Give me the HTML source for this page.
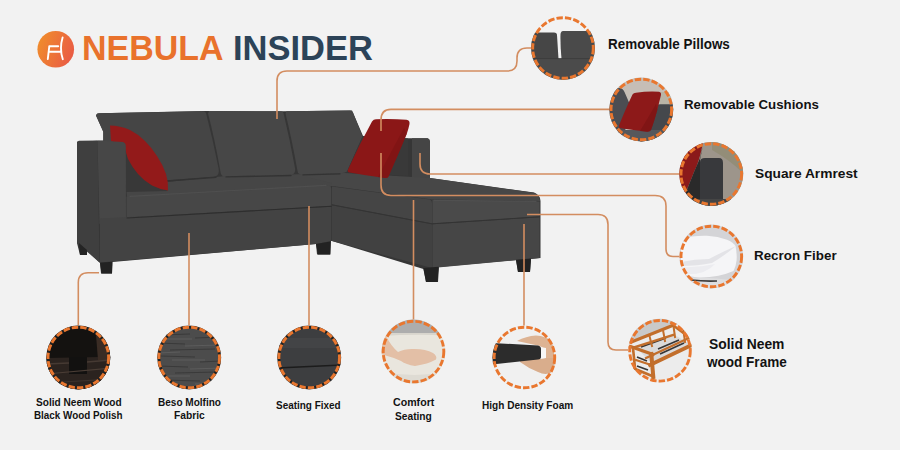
<!DOCTYPE html>
<html><head><meta charset="utf-8">
<style>
html,body{margin:0;padding:0;}
body{width:900px;height:450px;overflow:hidden;background:#f2f2f2;position:relative;font-family:"Liberation Sans",sans-serif;}
svg{position:absolute;left:0;top:0;}
.t{position:absolute;font-weight:bold;color:#121212;white-space:nowrap;line-height:1;}
</style></head><body>
<svg width="900" height="450" viewBox="0 0 900 450">
<defs>
 <linearGradient id="lg" x1="0" y1="0.3" x2="1" y2="0.7">
  <stop offset="0" stop-color="#f08c2c"/><stop offset="1" stop-color="#e95a45"/>
 </linearGradient>
 <clipPath id="c1"><circle cx="563" cy="48" r="32"/></clipPath>
 <clipPath id="c2"><circle cx="641.3" cy="109.5" r="32"/></clipPath>
 <clipPath id="c3"><circle cx="711.3" cy="174" r="32"/></clipPath>
 <clipPath id="c4"><circle cx="711.3" cy="256.5" r="32"/></clipPath>
 <clipPath id="c5"><circle cx="660" cy="350.8" r="32"/></clipPath>
 <clipPath id="c6"><circle cx="524.4" cy="357.5" r="32"/></clipPath>
 <clipPath id="c7"><circle cx="78.3" cy="357.5" r="32"/></clipPath>
 <clipPath id="c8"><circle cx="189.2" cy="357.5" r="32"/></clipPath>
 <clipPath id="c9"><circle cx="309.2" cy="357.5" r="32"/></clipPath>
 <clipPath id="c10"><circle cx="413.5" cy="351.6" r="32"/></clipPath>
</defs>

<!-- logo -->
<circle cx="55.75" cy="49.25" r="18.3" fill="url(#lg)"/>
<path d="M47.8,59 L49.3,46.2 H58.2 M49,51.8 H60.2 M62.6,37.5 Q59.2,48.5 62.8,59.2" stroke="#fff" stroke-width="1.9" fill="none" stroke-linecap="round" stroke-linejoin="round"/>

<!-- ===== SOFA ===== -->
<g id="sofa">
 <!-- base silhouette -->
 <path d="M77,141.7 L103.3,140.6 L103.3,131.7 L96,115.5 Q96.5,113.3 99,113.3 L204,110.9 L283,111.3 L352,110.5 L363,136 L407.8,138.3 L427.8,138.3 Q430,139 430,142 L430,178 L534,192.5 Q540.5,195 540.5,201 L540.5,258 L531,259 L530,272 L518,272 L516,260 L439,267 L438,282 L426,282 L423.4,269 L332,241 L331,241 L330.5,254.5 L317,254.5 L316,244 L112.4,262 L112,273.5 L101,273.5 L100,263 L87,250 L87,255 L80,255 L77,243 Z" fill="#363636"/>
 <!-- back cushion 1 -->
 <path d="M96,115.5 Q96.5,113.3 99,113.3 L203,111.3 Q205.5,111.5 206,113 Q213,140 218.5,168 Q220,175 215,176.5 L160,181 L126,185 L103.3,141 L103.3,131.7 Z" fill="#454545"/>
 <!-- back cushion 2 -->
 <path d="M209,111 L281,111.3 Q283,111.5 283.5,113 Q290,140 295,168 Q296,174 291,175 L226,176.8 Q221,177 220.5,172 Q215,140 208,113.5 Z" fill="#474747"/>
 <!-- back cushion 3 -->
 <path d="M286.5,111.2 L350,110.6 Q352,110.8 353,112.5 L362.5,136.5 L347,171.5 Q345,173 340,173.3 L303,174.8 Q298,175 297.5,171 Q292,140 285.5,113.5 Z" fill="#474747"/>
 <!-- backrest of chaise (dark) -->
 <path d="M362.5,136.5 L408,138.5 L408,176 L347,172 Z" fill="#393939"/>
 <!-- chaise armrest -->
 <path d="M412,138.3 L427,138.3 Q430,139 430,142.5 L430,178.5 L412,178.5 Z" fill="#454545"/>
 <!-- chaise seat top -->
 <path d="M222,176.5 L345,173 L430,178 L534,192.8 Q540,195.5 540,201 L432,199.5 L332,186 L221,181 Z" fill="#474747"/>
 <!-- main seat top (shadowed near pillow) -->
 <path d="M126,186 L221,176.5 L300,175 L331.5,183 Q331.5,186 330,187 L127,197 Z" fill="#464646"/>
 <path d="M160,181.5 L216,177.3 M226,176.9 L291,175.5 M303,174.9 L340,173.8" stroke="#333333" stroke-width="1.3" fill="none" stroke-linecap="round"/>
 <!-- right red pillow -->
 <path d="M376,119.2 Q392,118.5 406.5,119.8 Q410,120.3 409.5,124 Q408.5,129 406.7,134 Q398,155 388.5,176.5 Q387.5,178.5 385,178 Q366,175.5 349.5,172.5 Q347,172 348,169.5 Q359,145 372,121.5 Q373.5,119.3 376,119.2 Z" fill="#8b1717"/>
 <path d="M406.7,134 Q398,155 388.5,176.5 Q387.5,178.5 385,178 L378,177 Q392,150 404,128 Z" fill="#7c1313" opacity="0.6"/>
 <!-- shadow under left pillow -->
 <path d="M125,150 L168,191 L126,192 Z" fill="#383838"/>
 <!-- left red pillow -->
 <path d="M110,125.5 Q120,125.5 130,130 Q138,134 145,141 Q152,148 157,156 Q163,165 166,174 Q168.5,182 168,190.5 Q160,189.5 152,185.5 Q144,181 138,174 Q132,167 128,159 L124,146 L111,141 Z" fill="#931a1a"/>
 <!-- left armrest (left face) -->
 <path d="M79,140.8 L97.5,140.6 L99.5,262.5 L77,243 L77,143 Q77,141 79,140.8 Z" fill="#3f3f3f"/>
 <!-- left armrest (front face) -->
 <path d="M97.5,140.6 L123,142 Q125.8,143 125.8,146 L126,218 L99.5,224 Z" fill="#474747"/>
 <!-- main seat cushion front -->
 <path d="M126.5,196.5 L327,186 Q331,185 331.3,189 L331.3,206 L126.5,217.5 Z" fill="#474747"/>
 <!-- main body front -->
 <path d="M100,218.5 L331.3,206.8 L331.3,241 L316,244 L100,262.5 Z" fill="#434343"/>
 <!-- chaise cushion side -->
 <path d="M332,186.5 L430,199.5 Q432,200.5 432,203 L432,223.5 L332,204.5 Z" fill="#454545"/>
 <!-- chaise body side -->
 <path d="M332,205.3 L432,224.3 L432,268 L332,241 Z" fill="#414141"/>
 <!-- chaise cushion front -->
 <path d="M432.5,200 L539.5,201.5 L539.5,216.5 L432.5,223.5 Z" fill="#4a4a4a"/>
 <!-- chaise body front -->
 <path d="M432.5,224.3 L539.5,217.3 L539.5,258 L432.5,268 Z" fill="#464646"/>
 <!-- seams -->
 <g fill="none" stroke-linecap="round">
  <path d="M127,218 L331,206.3" stroke="#2e2e2e" stroke-width="1.1"/>
  <path d="M332,204.8 L432,223.8 L539.5,216.8" stroke="#343434" stroke-width="1"/>
  <path d="M130,196.3 L326,185.3" stroke="#4f4f4f" stroke-width="1.2"/>
  <path d="M434,200.3 L536,201.3" stroke="#505050" stroke-width="1.2"/>
 </g>
 <!-- legs -->
 <path d="M79,243 L87,250 L87,255 L80,255 Z" fill="#242424"/>
 <path d="M100,262.8 L112.4,261.8 L112,273.5 L101.5,273.5 Z" fill="#222222"/>
 <path d="M316,244 L330.5,241.5 L330,254.5 L318,254.5 Z" fill="#222222"/>
 <path d="M423.4,268 L438.5,266.8 L437.5,282 L426,282 Z" fill="#222222"/>
 <path d="M516,259.8 L531,258.5 L530,272 L518,272 Z" fill="#222222"/>
</g>

<!-- ===== LINES ===== -->
<g fill="none" stroke="#d38d60" stroke-width="1.6">
 <path d="M277,119 V81 Q277,71 287,71 H507 Q517,71 517,61 V58 Q517,48 527,48 H532"/>
 <path d="M381,131 V120 Q381,109.4 391,109.4 H610"/>
 <path d="M381,153 V185 Q381,195.5 391,195.5 H655 Q666,195.5 666,206 V249 Q666,256.5 673,256.5 H680"/>
 <path d="M420,153 V164 Q420,174 430,174 H680"/>
 <path d="M527,214.5 H598 Q608,214.5 608,224.5 V342 Q608,350 616,350 H629"/>
 <path d="M524,224 V326"/>
 <path d="M413.5,200 V320"/>
 <path d="M309,206 V325"/>
 <path d="M189,233 V325"/>
 <path d="M99,272.7 H88 Q78.3,272.7 78.3,282.5 V325"/>
</g>

<!-- ===== CIRCLES ===== -->
<g clip-path="url(#c1)">
 <rect x="530" y="15" width="66" height="66" fill="#f2f2f2"/>
 <path d="M530,32.6 L554,32.4 Q557,32.6 557,35 L558.5,59 L530,59 Z" fill="#464646"/>
 <path d="M563,31 L596,31 L596,59 L561.5,59 Q560.2,45 560.5,34 Q561,31 563,31 Z" fill="#4a4a4a"/>
 <rect x="530" y="58.5" width="66" height="23" fill="#4b4b4b"/>
 <path d="M530,58.6 L596,58.6" stroke="#3a3a3a" stroke-width="0.8"/>
</g>
<g clip-path="url(#c2)">
 <rect x="609" y="77" width="66" height="66" fill="#c6beb6"/>
 <path d="M660,92 L675,92 L675,105 L660,105 Z" fill="#b9b4a6"/>
 <path d="M609,93 Q615,88 620,88 Q623,88.5 624.5,92 L631,107 L624,135 L609,135 Z" fill="#4b4d52"/>
 <path d="M645,106 L660,104.3 L675,104.3 L675,143 L640,143 Z" fill="#45484c"/>
 <rect x="609" y="130" width="66" height="13" fill="#56585c"/>
 <path d="M636,92.8 Q648,91 659,91.8 Q661.5,92.5 661,95 Q659,103 657.3,110 Q654,122 651,130 Q650,132 647,131.8 Q633,130 621,128.3 Q618.5,128 619,125.5 Q626,108 632.5,94.5 Q633.5,92.8 636,92.8 Z" fill="#8d1919"/>
 <path d="M657.3,110 Q654,122 651,130 Q650,132 647,131.8 L640,131 Q648,118 656,104 Z" fill="#741212" opacity="0.5"/>
</g>
<g clip-path="url(#c3)">
 <rect x="679" y="142" width="66" height="66" fill="#9d958b"/>
 <path d="M712,142 L745,142 L745,175 Q730,160 712,150 Z" fill="#8e8a70" opacity="0.7"/>
 <path d="M679,142 L703,142 Q700,160 694,172 Q690,182 686,192 L679,200 Z" fill="#8b1a1a"/>
 <path d="M703,145 L700,158 L694,172 L686,192 L683,200 L700,200 L700,160 Z" fill="#2a2a2a"/>
 <path d="M700,162 Q700,158 705,158 L719,158 Q723,158 723,163 L723,210 L700,210 Z" fill="#38393c"/>
 <rect x="679" y="199" width="66" height="10" fill="#454545"/>
</g>
<g clip-path="url(#c4)">
 <rect x="679" y="224" width="66" height="66" fill="#d4d4d7"/>
 <path d="M679,278 Q705,276 745,282 L745,290 L679,290 Z" fill="#dedee0"/>
 <path d="M681,246 Q685,238 692,236.6 Q700,235.5 707,235.8 Q718,236.5 727,239.7 Q733,242 735.5,246 Q737,253 736.6,260 Q736,266 733.5,271 Q720,277 700,277.5 Q688,277 681,272 Z" fill="#f5f5f7"/>
 <path d="M681,262 Q695,259 709,259 Q722,252 736,246 Q724,256 712,263 Q698,266 681,266 Z" fill="#e3e3e7"/>
 <path d="M681,267 Q698,268 715,264 Q705,276 681,274 Z" fill="#ececf0"/>
 <path d="M691,280 Q704,281.5 717,281" stroke="#3c3c3c" stroke-width="1.6" fill="none"/>
</g>
<g clip-path="url(#c5)">
 <rect x="627" y="318" width="66" height="66" fill="#ececec"/>
 <path d="M627,318 L693,318 L693,322 L673,325 L632,342 L627,344 Z" fill="#c9c9c9"/>
 <path d="M636,347 L673,334 L690,344 L652,364 Z" fill="#dadada"/>
 <g stroke="#363636" stroke-width="1.7" fill="none">
  <path d="M641,347 L666,338"/><path d="M658,349 L679,340"/><path d="M660,354 L684,343"/>
  <path d="M637,357 L647,361"/><path d="M637,366 L648,370"/>
 </g>
 <g stroke="#c26e2b" fill="none" stroke-linecap="square">
  <path d="M631.5,342 L673,325.3" stroke-width="3"/>
  <path d="M634,347.5 L673,335" stroke-width="2.4"/>
  <path d="M649.5,336 L652,346" stroke-width="2"/><path d="M663,330 L665,341" stroke-width="2"/>
  <path d="M673,325.3 L687.5,336" stroke-width="2.6"/>
  <path d="M673.5,326 L675,337" stroke-width="2"/><path d="M683.5,331 L685,342" stroke-width="2"/>
  <path d="M646,358 L689,338" stroke-width="2.2"/>
  <path d="M650,365 L690.5,345.5" stroke-width="3.8"/>
  <path d="M630.5,346.5 L653,354.5" stroke-width="3.2"/>
  <path d="M651.3,354 L653.3,377" stroke-width="4"/>
  <path d="M633,348 L635,368" stroke-width="2.6"/>
  <path d="M636,360 L651,365" stroke-width="2"/>
  <path d="M634,368.5 L652,376" stroke-width="2.8"/>
 </g>
</g>
<g clip-path="url(#c6)">
 <rect x="492" y="325" width="66" height="66" fill="#f0f0f0"/>
 <path d="M517,341 Q526,336 536,335.5 Q546,336 551,341 Q554,346 554,352 L554,360 L546,360 L545,349 L540,346 Z" fill="#ddb393"/>
 <path d="M520,360 L546,358 L554,358 Q556,366 552,372 Q546,376 538,372 Q528,368 520,362 Z" fill="#d9ad8c"/>
 <path d="M540,347 L546,348 L546,358 L540,359 Z" fill="#f7f7f7"/>
 <path d="M492,343 L538,345.5 Q541,346 541,349 L541,357 Q541,359 538,359.5 L492,364.5 Z" fill="#2c2c2c"/>
</g>
<g clip-path="url(#c7)">
 <rect x="46" y="325" width="66" height="66" fill="#141210"/>
 <path d="M46,358 L100,357 L104,352 L112,350 L112,391 L46,391 Z" fill="#2b231f"/>
 <path d="M96,335 Q104,338 108,345 L110,360 L98,360 Z" fill="#3a2c24"/>
 <rect x="69" y="357" width="18" height="17" fill="#121110"/>
 <path d="M46,364 L69,363 M87,362 L112,360" stroke="#463a33" stroke-width="1.5"/>
 <path d="M46,374 L112,368" stroke="#4a3d35" stroke-width="1.2"/>
 <path d="M46,383 L112,379" stroke="#3d322c" stroke-width="1.2"/>
</g>
<g clip-path="url(#c8)">
 <rect x="157" y="325" width="66" height="66" fill="#4c4c4c"/>
 <g stroke="#3a3a3a" stroke-width="1.2">
  <path d="M160,335 L190,334 M195,338 L220,337 M158,343 L185,344 M170,350 L215,349 M160,356 L195,357 M200,362 L222,361 M158,366 L188,367 M175,373 L218,372 M162,380 L200,381"/>
 </g>
 <g stroke="#5c5c5c" stroke-width="1">
  <path d="M165,339 L192,339 M185,346 L220,345 M158,353 L180,352 M172,360 L205,360 M190,369 L222,368 M160,376 L190,376 M195,384 L215,384"/>
 </g>
</g>
<g clip-path="url(#c9)">
 <rect x="277" y="325" width="66" height="66" fill="#3d3e40"/>
 <rect x="277" y="338" width="66" height="10" fill="#434446"/>
 <path d="M277,368 L342,365" stroke="#1c1c1c" stroke-width="1.3"/>
</g>
<g clip-path="url(#c10)">
 <rect x="381" y="319" width="66" height="66" fill="#e9e6de"/>
 <rect x="381" y="319" width="66" height="14" fill="#adadad"/>
 <path d="M381,333 L447,333 L447,335.5 Q415,334 381,336 Z" fill="#d8d5cd"/>
 <path d="M381,372 Q415,378 447,372 L447,385 L381,385 Z" fill="#dedbd3"/>
 <path d="M381,336 L386,336 Q391,346 398,352 Q404,349 412,349 Q425,348.5 433,353 Q437.5,356 436,359.5 Q428,364 415,366 Q406,364.5 401,361 Q392,357 384,355 L381,354 Z" fill="#e3bfa6"/>
</g>
<g fill="none" stroke="#222" stroke-width="2.6">
 <circle cx="78.3" cy="357.5" r="30.3"/>
 <circle cx="189.2" cy="357.5" r="30.3"/>
 <circle cx="309.2" cy="357.5" r="30.3"/>
</g>
<g fill="none" stroke="#e9772f" stroke-width="2.9" stroke-dasharray="6.4 2.1">
 <circle cx="563" cy="48" r="30.3"/>
 <circle cx="641.3" cy="109.5" r="30.3"/>
 <circle cx="711.3" cy="174" r="30.3"/>
 <circle cx="711.3" cy="256.5" r="30.3"/>
 <circle cx="660" cy="350.8" r="30.3"/>
 <circle cx="524.4" cy="357.5" r="30.3"/>
 <circle cx="78.3" cy="357.5" r="30.3"/>
 <circle cx="189.2" cy="357.5" r="30.3"/>
 <circle cx="309.2" cy="357.5" r="30.3"/>
 <circle cx="413.5" cy="351.6" r="30.3"/>
</g>
</svg>

<div class="t" style="left:82px;top:30px;font-size:35px;color:#e9722c;transform:scaleX(0.97);transform-origin:0 0;">NEBULA</div>
<div class="t" style="left:233px;top:30px;font-size:35px;color:#2c4358;transform:scaleX(0.985);transform-origin:0 0;">INSIDER</div>

<div class="t" style="left:608.40px;top:38.40px;font-size:13.8px;transform:scaleX(0.975);transform-origin:0 0;">Removable Pillows</div>
<div class="t" style="left:683.80px;top:98.20px;font-size:13.6px;transform:scaleX(0.976);transform-origin:0 0;">Removable Cushions</div>
<div class="t" style="left:755.20px;top:167.40px;font-size:13.6px;transform:scaleX(1.011);transform-origin:0 0;">Square Armrest</div>
<div class="t" style="left:753.60px;top:249.40px;font-size:13.6px;transform:scaleX(0.985);transform-origin:0 0;">Recron Fiber</div>
<div class="t" style="left:709.00px;top:338.20px;font-size:13.8px;transform:scaleX(1.004);transform-origin:0 0;">Solid Neem</div>
<div class="t" style="left:707.40px;top:356.40px;font-size:13.8px;transform:scaleX(0.981);transform-origin:0 0;">wood Frame</div>
<div class="t" style="left:35.60px;top:398.20px;font-size:10.4px;transform:scaleX(0.972);transform-origin:0 0;">Solid Neem Wood</div>
<div class="t" style="left:34.20px;top:411.00px;font-size:10.2px;transform:scaleX(0.968);transform-origin:0 0;">Black Wood Polish</div>
<div class="t" style="left:157.80px;top:397.80px;font-size:10.2px;transform:scaleX(0.984);transform-origin:0 0;">Beso Molfino</div>
<div class="t" style="left:173.80px;top:411.20px;font-size:10.3px;transform:scaleX(0.997);transform-origin:0 0;">Fabric</div>
<div class="t" style="left:276.40px;top:399.60px;font-size:10.5px;transform:scaleX(0.946);transform-origin:0 0;">Seating Fixed</div>
<div class="t" style="left:393.00px;top:397.80px;font-size:10.2px;transform:scaleX(1.043);transform-origin:0 0;">Comfort</div>
<div class="t" style="left:394.60px;top:411.80px;font-size:10.2px;transform:scaleX(1.001);transform-origin:0 0;">Seating</div>
<div class="t" style="left:481.60px;top:401.40px;font-size:10.4px;transform:scaleX(0.969);transform-origin:0 0;">High Density Foam</div>
</body></html>
